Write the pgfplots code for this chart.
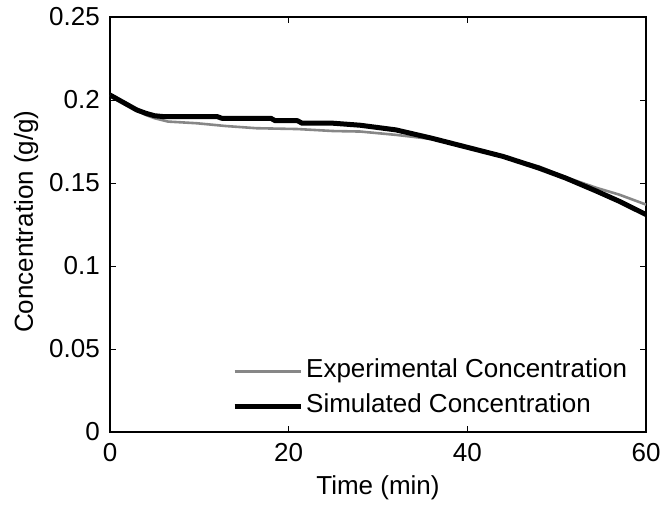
\documentclass[border=0pt]{standalone}
\usepackage{pgfplots}
\pgfplotsset{compat=1.18}
\usepackage{fontspec}
\setmainfont{Liberation Sans}
\begin{document}
\fontsize{26}{31}\selectfont
\begin{tikzpicture}
\begin{axis}[
  scale only axis,
  width=536pt, height=415pt,
  xmin=0, xmax=60, ymin=0, ymax=0.25,
  xtick={0,20,40,60},
  ytick={0,0.05,0.1,0.15,0.2,0.25},
  yticklabels={0,0.05,0.1,0.15,0.2,0.25},
  scaled ticks=false,
  /pgf/number format/assume math mode=true,
  tick align=inside,
  major tick length=6pt,
  axis line style={line width=1.2pt},
  every tick/.style={black, line width=0.8pt},
  tick label style={font=\fontsize{26}{31}\selectfont},
  label style={font=\fontsize{26}{31}\selectfont},
  xlabel={Time (min)},
  ylabel={Concentration (g/g)},
  every axis x label/.style={at={(axis description cs:0.5,-0.1494)}, anchor=base},
  every axis y label/.style={at={(axis description cs:-0.1437,0.507)}, rotate=90, anchor=base},
  yticklabel style={xshift=-1.3pt},
  xticklabel style={yshift=-2.3pt},
  legend style={at={(axis description cs:0.2276,0.0313)}, anchor=south west, draw=none, fill=none,
    font=\fontsize{26}{31}\selectfont, row sep=10pt, column sep=3pt, inner sep=0pt,
    nodes={inner sep=0pt, text height=19pt, text depth=6pt},
    legend cell align=left},
  legend image code/.code={\draw[#1] (0pt,0pt) -- (66pt,0pt);},
]
\addplot[color=black!47, line width=2.6pt, line join=round] coordinates {
(0,0.203) (1,0.2) (2,0.197) (3,0.194) (4,0.191) (5,0.189) (6.5,0.187)
(9.7,0.186) (13,0.1843) (16.4,0.183) (21,0.1825) (25,0.1813) (28,0.181)
(32,0.179) (36,0.1765) (40,0.1715) (44,0.166) (48,0.16) (51,0.1535)
(54.5,0.147) (57,0.143) (60,0.137)
};
\addlegendentry{Experimental Concentration}
\addplot[color=black, line width=5pt, line join=round] coordinates {
(0,0.203) (1,0.2) (2,0.197) (3,0.194) (4,0.192) (5,0.1905) (6,0.19)
(12,0.19) (12.5,0.189) (18,0.189) (18.5,0.1875) (21,0.1875) (21.5,0.186)
(25,0.186) (28,0.1848) (32,0.182) (36,0.177) (40,0.1715) (44,0.166)
(48,0.159) (51,0.153) (54.5,0.145) (57,0.139) (60,0.131)
};
\addlegendentry{Simulated Concentration}
\end{axis}
\pgfresetboundingbox
\useasboundingbox (-110pt,-73pt) rectangle (553pt,432pt);
\end{tikzpicture}
\end{document}
